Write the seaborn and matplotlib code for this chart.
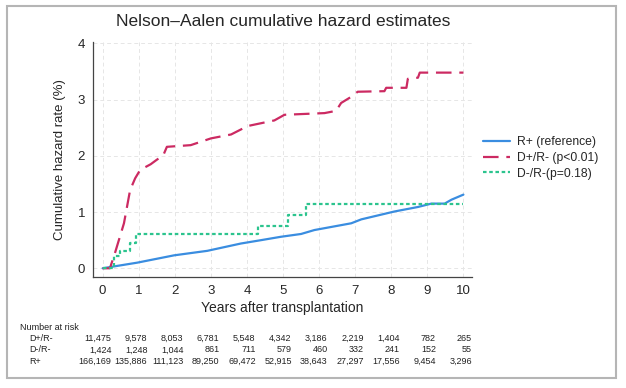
import numpy as np
import pandas as pd
import matplotlib
matplotlib.use("Agg")
import matplotlib.pyplot as plt
import matplotlib.transforms as mtransforms
from matplotlib.patches import Rectangle
import seaborn as sns

# curves (years, cumulative hazard %)
ref_t = [0, 0.96, 1.98, 2.9, 3.83, 4.39, 4.94, 5.5, 5.87, 6.89, 7.17, 8.09, 8.74, 9.11, 9.48, 9.67, 10.0]
ref_v = [0, 0.10, 0.23, 0.31, 0.44, 0.50, 0.56, 0.61, 0.68, 0.80, 0.87, 1.01, 1.09, 1.15, 1.15, 1.22, 1.31]

dpos_t = [0, 0.2, 0.34, 0.59, 0.76, 0.9, 1.04, 1.33, 1.5, 1.68, 1.78, 2.44, 3.0, 3.56, 4.02, 4.39, 4.76,
          5.04, 6.15, 6.47, 6.61, 6.89, 7.07, 7.81, 7.86, 8.42, 8.46, 8.74, 8.79, 10.0]
dpos_v = [0, 0.0, 0.27, 0.8, 1.39, 1.6, 1.75, 1.85, 1.93, 2.01, 2.16, 2.19, 2.31, 2.38, 2.53, 2.58, 2.63,
          2.73, 2.76, 2.80, 2.94, 3.05, 3.14, 3.15, 3.21, 3.21, 3.37, 3.39, 3.48, 3.48]

dneg_t = [0, 0.30, 0.48, 0.76, 0.93, 4.3, 5.15, 5.64, 10.0]
dneg_v = [0, 0.21, 0.30, 0.45, 0.61, 0.76, 0.95, 1.14, 1.14]

years = list(range(0, 11))
risk_dpos = ["11,475", "9,578", "8,053", "6,781", "5,548", "4,342", "3,186", "2,219", "1,404", "782", "265"]
risk_dneg = ["1,424", "1,248", "1,044", "861", "711", "579", "460", "332", "241", "152", "55"]
risk_ref = ["166,169", "135,886", "111,123", "89,250", "69,472", "52,915", "38,643", "27,297", "17,556", "9,454", "3,296"]

sns.set_style("white")
plt.rcParams["font.family"] = ["Liberation Sans", "DejaVu Sans"]

fig = plt.figure(figsize=(6.26, 3.88), dpi=100)
ax = fig.add_axes([93.3 / 626, 1 - 276.7 / 388, (471.7 - 93.3) / 626, (276.7 - 41.7) / 388])

blue = "#3a8de0"
red = "#cc2a62"
green = "#2cc48e"

df_ref = pd.DataFrame({"t": ref_t, "v": ref_v})
df_pos = pd.DataFrame({"t": dpos_t, "v": dpos_v})
df_neg = pd.DataFrame({"t": dneg_t, "v": dneg_v})

sns.lineplot(data=df_ref, x="t", y="v", ax=ax, color=blue, lw=1.6, estimator=None, sort=False,
             label="R+ (reference)")
sns.lineplot(data=df_pos, x="t", y="v", ax=ax, color=red, lw=1.6, estimator=None, sort=False,
             label="D+/R- (p<0.01)")
sns.lineplot(data=df_neg, x="t", y="v", ax=ax, color=green, lw=1.6, estimator=None, sort=False,
             drawstyle="steps-post", label="D-/R-(p=0.18)")
lines = ax.get_lines()
lines[1].set_dashes([7, 3.5])
lines[2].set_dashes([1.6, 1.2])

ax.set_xlim(-0.26, 10.23)
ax.set_ylim(-0.15, 4.03)
ax.set_xticks(years)
ax.set_yticks([0, 1, 2, 3, 4])
ax.grid(True, color="#e6e6e6", lw=0.7, ls=(0, (4, 3)))
for s in ["top", "right"]:
    ax.spines[s].set_visible(False)
for s in ["left", "bottom"]:
    ax.spines[s].set_color("#444444")
    ax.spines[s].set_linewidth(0.9)
ax.tick_params(direction="out", length=4, width=0.8, color="#444444", labelsize=9.5, pad=2)
ax.set_xlabel("Years after transplantation", fontsize=10, labelpad=3)
ax.set_ylabel("Cumulative hazard rate (%)", fontsize=9.5, labelpad=8)
fig.text(283 / 626, 1 - 22 / 388, "Nelson\u2013Aalen cumulative hazard estimates", ha="center", va="center",
         fontsize=12.5)

handles, labels = ax.get_legend_handles_labels()
ax.legend(handles, labels, loc="center left", bbox_to_anchor=(1.0, 0.505), frameon=False, fontsize=8.7,
          handlelength=2.3, handletextpad=0.55, labelspacing=0.3)

# number at risk table (baseline aligned so rows stay level)
trans = mtransforms.blended_transform_factory(ax.transData, fig.transFigure)
tfs = 6.5
fig.text(20 / 626, 1 - 330 / 388, "Number at risk", fontsize=tfs, va="baseline", color="#222222")
rows = [("D+/R-", risk_dpos, 341), ("D-/R-", risk_dneg, 352.5), ("R+", risk_ref, 364)]
for name, vals, ypix in rows:
    fig.text(29 / 626, 1 - ypix / 388, name, fontsize=tfs, va="baseline", color="#222222")
    for yr, val in zip(years, vals):
        ax.text(yr + 0.24, 1 - ypix / 388, val, transform=trans, fontsize=tfs, ha="right", va="baseline",
                color="#222222", clip_on=False)

fig.patches.append(Rectangle((7 / 626, 1 - 378 / 388), (616 - 7) / 626, (378 - 6) / 388,
                             transform=fig.transFigure, fill=False, edgecolor="#b5b5b5", lw=1.5))

fig.savefig("out.png", dpi=100)
